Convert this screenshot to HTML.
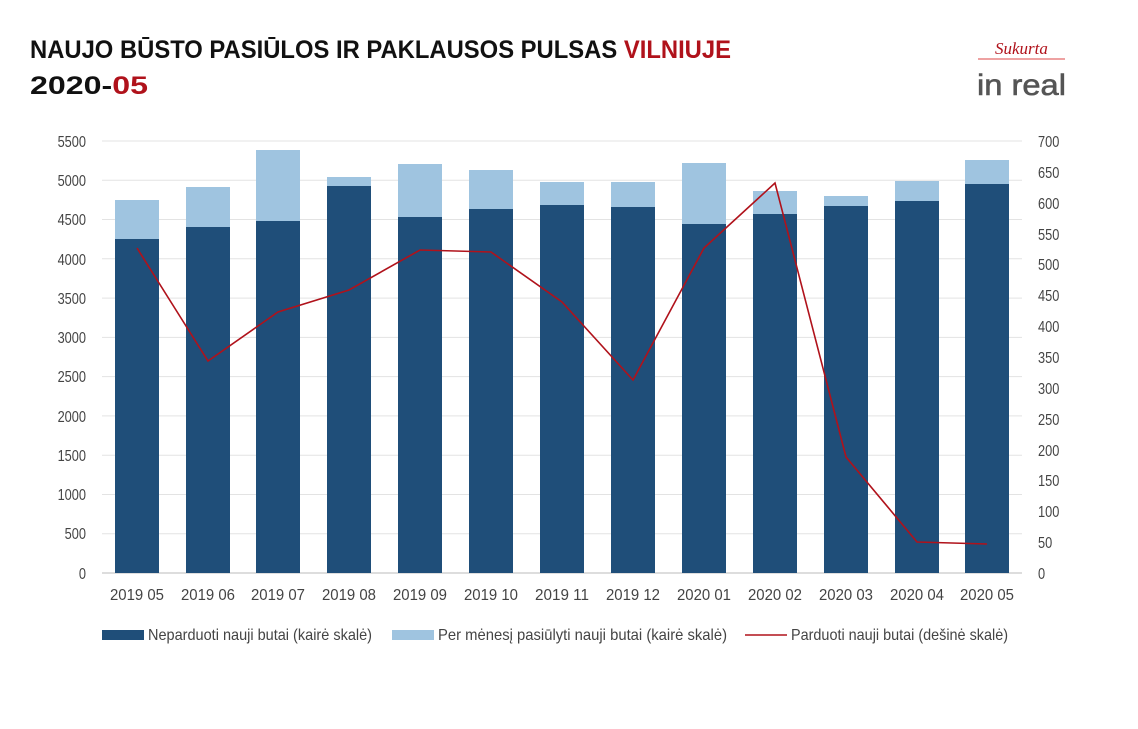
<!DOCTYPE html>
<html><head><meta charset="utf-8"><style>
body{margin:0;background:#fff;width:1138px;height:724px;overflow:hidden}
text{font-family:"Liberation Sans",sans-serif}
</style></head><body>
<svg width="1138" height="724" viewBox="0 0 1138 724" xmlns="http://www.w3.org/2000/svg">
<text x="30" y="58" font-size="25" font-weight="bold" fill="#111" textLength="701" lengthAdjust="spacingAndGlyphs">NAUJO BŪSTO PASIŪLOS IR PAKLAUSOS PULSAS <tspan fill="#b0121b">VILNIUJE</tspan></text>
<text x="30" y="94" font-size="25" font-weight="bold" fill="#111" textLength="118" lengthAdjust="spacingAndGlyphs">2020-<tspan fill="#b0121b">05</tspan></text>
<text x="995" y="54" font-size="17" font-style="italic" fill="#b0121b" style="font-family:'Liberation Serif',serif">Sukurta</text>
<line x1="978" y1="59" x2="1065" y2="59" stroke="#d44" stroke-width="1"/>
<text x="977" y="95" font-size="30" fill="#555" stroke="#555" stroke-width="0.6" textLength="89" lengthAdjust="spacingAndGlyphs">in real</text>
<g stroke="#e3e3e3" stroke-width="1">
<line x1="102" x2="1022" y1="141" y2="141"/><line x1="102" x2="1022" y1="180.3" y2="180.3"/><line x1="102" x2="1022" y1="219.5" y2="219.5"/><line x1="102" x2="1022" y1="258.8" y2="258.8"/><line x1="102" x2="1022" y1="298.1" y2="298.1"/><line x1="102" x2="1022" y1="337.4" y2="337.4"/><line x1="102" x2="1022" y1="376.6" y2="376.6"/><line x1="102" x2="1022" y1="415.9" y2="415.9"/><line x1="102" x2="1022" y1="455.2" y2="455.2"/><line x1="102" x2="1022" y1="494.5" y2="494.5"/><line x1="102" x2="1022" y1="533.7" y2="533.7"/>
</g>
<line x1="102" x2="1022" y1="573" y2="573" stroke="#bbb"/>
<g font-size="16" fill="#444" text-anchor="end" transform="translate(86,0) scale(0.8,1) translate(-86,0)">
<text x="86" y="147">5500</text><text x="86" y="186">5000</text><text x="86" y="225">4500</text><text x="86" y="265">4000</text><text x="86" y="304">3500</text><text x="86" y="343">3000</text><text x="86" y="382">2500</text><text x="86" y="422">2000</text><text x="86" y="461">1500</text><text x="86" y="500">1000</text><text x="86" y="539">500</text><text x="86" y="579">0</text>
</g>
<g font-size="16" fill="#444" text-anchor="start" transform="translate(1038,0) scale(0.8,1) translate(-1038,0)">
<text x="1038" y="147">700</text><text x="1038" y="178">650</text><text x="1038" y="209">600</text><text x="1038" y="240">550</text><text x="1038" y="270">500</text><text x="1038" y="301">450</text><text x="1038" y="332">400</text><text x="1038" y="363">350</text><text x="1038" y="394">300</text><text x="1038" y="425">250</text><text x="1038" y="456">200</text><text x="1038" y="486">150</text><text x="1038" y="517">100</text><text x="1038" y="548">50</text><text x="1038" y="579">0</text>
</g>
<g fill="#9fc4e0">
<rect x="115" y="200" width="44" height="40"/><rect x="186" y="187" width="44" height="41"/><rect x="256" y="150" width="44" height="72"/><rect x="327" y="177" width="44" height="10"/><rect x="398" y="164" width="44" height="54"/><rect x="469" y="170" width="44" height="40"/><rect x="540" y="182" width="44" height="24"/><rect x="611" y="182" width="44" height="26"/><rect x="682" y="163" width="44" height="62"/><rect x="753" y="191" width="44" height="24"/><rect x="824" y="196" width="44" height="11"/><rect x="895" y="181" width="44" height="21"/><rect x="965" y="160" width="44" height="25"/>
</g>
<g fill="#1f4e79">
<rect x="115" y="239" width="44" height="334"/><rect x="186" y="227" width="44" height="346"/><rect x="256" y="221" width="44" height="352"/><rect x="327" y="186" width="44" height="387"/><rect x="398" y="217" width="44" height="356"/><rect x="469" y="209" width="44" height="364"/><rect x="540" y="205" width="44" height="368"/><rect x="611" y="207" width="44" height="366"/><rect x="682" y="224" width="44" height="349"/><rect x="753" y="214" width="44" height="359"/><rect x="824" y="206" width="44" height="367"/><rect x="895" y="201" width="44" height="372"/><rect x="965" y="184" width="44" height="389"/>
</g>
<polyline fill="none" stroke="#b0121b" stroke-width="1.6" points="137,248 208,361 278,312 349,290 420,250 491,252 562,302 633,380 704,248 775,183 846,457 917,542 987,544"/>
<g font-size="16" fill="#444">
<text x="110" y="600" textLength="54" lengthAdjust="spacingAndGlyphs">2019 05</text><text x="181" y="600" textLength="54" lengthAdjust="spacingAndGlyphs">2019 06</text><text x="251" y="600" textLength="54" lengthAdjust="spacingAndGlyphs">2019 07</text><text x="322" y="600" textLength="54" lengthAdjust="spacingAndGlyphs">2019 08</text><text x="393" y="600" textLength="54" lengthAdjust="spacingAndGlyphs">2019 09</text><text x="464" y="600" textLength="54" lengthAdjust="spacingAndGlyphs">2019 10</text><text x="535" y="600" textLength="54" lengthAdjust="spacingAndGlyphs">2019 11</text><text x="606" y="600" textLength="54" lengthAdjust="spacingAndGlyphs">2019 12</text><text x="677" y="600" textLength="54" lengthAdjust="spacingAndGlyphs">2020 01</text><text x="748" y="600" textLength="54" lengthAdjust="spacingAndGlyphs">2020 02</text><text x="819" y="600" textLength="54" lengthAdjust="spacingAndGlyphs">2020 03</text><text x="890" y="600" textLength="54" lengthAdjust="spacingAndGlyphs">2020 04</text><text x="960" y="600" textLength="54" lengthAdjust="spacingAndGlyphs">2020 05</text>
</g>
<rect x="102" y="630" width="42" height="10" fill="#1f4e79"/>
<text x="148" y="640" font-size="16" fill="#444" textLength="224" lengthAdjust="spacingAndGlyphs">Neparduoti nauji butai (kairė skalė)</text>
<rect x="392" y="630" width="42" height="10" fill="#9fc4e0"/>
<text x="438" y="640" font-size="16" fill="#444" textLength="289" lengthAdjust="spacingAndGlyphs">Per mėnesį pasiūlyti nauji butai (kairė skalė)</text>
<line x1="745" x2="787" y1="635" y2="635" stroke="#b0121b" stroke-width="1.6"/>
<text x="791" y="640" font-size="16" fill="#444" textLength="217" lengthAdjust="spacingAndGlyphs">Parduoti nauji butai (dešinė skalė)</text>
</svg>
</body></html>
